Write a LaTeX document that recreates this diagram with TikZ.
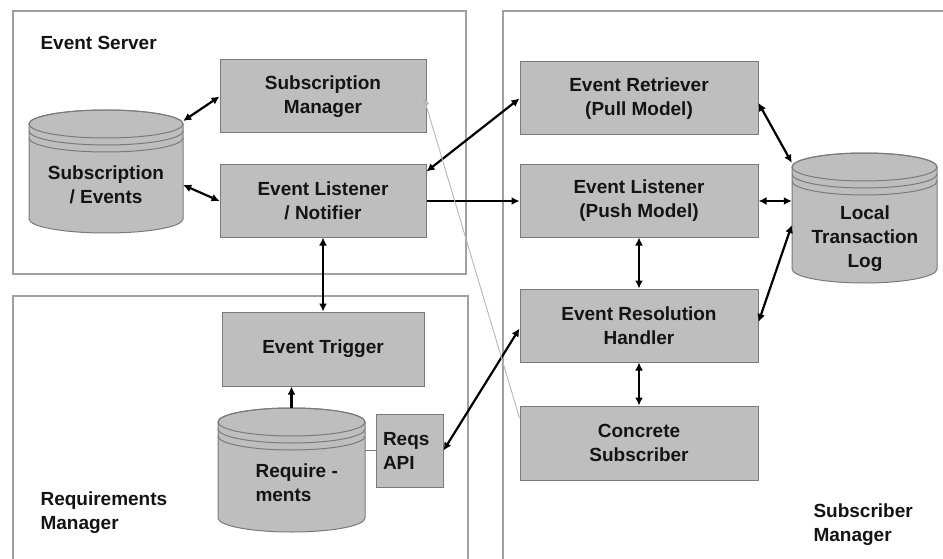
\documentclass[tikz,border=0pt]{standalone}
\usepackage{fontspec}
\setmainfont{Liberation Sans}
\usetikzlibrary{arrows.meta}
\definecolor{boxfill}{HTML}{BEBEBE}
\definecolor{boxline}{HTML}{7A7A7A}
\definecolor{frameline}{HTML}{A0A0A0}
\definecolor{txt}{HTML}{141414}
\tikzset{
  every node/.style={font=\fontsize{19}{24}\selectfont\bfseries, text=txt},
  box/.style={draw=boxline, line width=1pt, fill=boxfill, inner sep=0pt, align=center},
  anchorbox/.style={inner sep=0pt, draw=none},
  frame/.style={draw=frameline, line width=1.6pt},
  conn/.style={line width=2.2pt, black},
  bi/.style={conn, {Latex[length=8pt,width=8pt]}-{Latex[length=8pt,width=8pt]}},
  uni/.style={conn, -{Latex[length=8pt,width=8pt]}},
  ghost/.style={line width=0.9pt, draw=black!28, -{Latex[length=9pt,width=7pt]}},
}
% cylinder: #1 x1, #2 x2, #3 ytop, #4 ybottom (pixel coordinates, y downward)
\newcommand{\drawcyl}[4]{%
  \pgfmathsetmacro{\rx}{(#2-#1)/2}%
  \pgfmathsetmacro{\cx}{(#1+#2)/2}%
  \pgfmathsetmacro{\cyy}{#3+14}%
  \pgfmathsetmacro{\byy}{#4-14}%
  \pgfmathsetmacro{\bandA}{#3+21}%
  \pgfmathsetmacro{\bandB}{#3+28}%
  \filldraw[fill=boxfill, draw=boxline, line width=1pt]
    (#1,\cyy) -- (#1,\byy) arc[start angle=180, end angle=0, x radius=\rx, y radius=14]
    -- (#2,\cyy) arc[start angle=0, end angle=-180, x radius=\rx, y radius=14] -- cycle;
  \draw[boxline, line width=1pt] (\cx,\cyy) ellipse[x radius=\rx, y radius=14];
  \draw[boxline, line width=1pt] (#1,\bandA) arc[start angle=180, end angle=0, x radius=\rx, y radius=14];
  \draw[boxline, line width=1pt] (#1,\bandB) arc[start angle=180, end angle=0, x radius=\rx, y radius=14];
}
\begin{document}
\begin{tikzpicture}[x=1pt, y=-1pt]
\useasboundingbox (0,0) rectangle (943,559);
\clip (0,0) rectangle (943,559);
\fill[white] (0,0) rectangle (943,559);

% frames
\draw[frame] (13,11) rectangle (466,274);
\draw[frame] (13,296) rectangle (468,575);
\draw[frame] (503,11) rectangle (960,575);

% frame labels
\node[anchor=west] (lblES) at (37,43) {Event Server};
\node[anchor=west, align=left] (lblRM) at (37,513) {Requirements\\Manager};
\node[anchor=west, align=left] (lblSM) at (810,525) {Subscriber\\Manager};

% cylinders
\drawcyl{29}{183}{110}{233}
\node[anchorbox, minimum width=154pt, minimum height=123pt] (se) at (106,171.5) {};
\node[align=center] (setext) at (106,185) {Subscription\\/ Events};

\drawcyl{792}{937}{153}{283}
\node[anchorbox, minimum width=145pt, minimum height=130pt] (ltl) at (864.5,218) {};
\node[align=center] (ltltext) at (865,239) {Local\\Transaction\\Log};

\drawcyl{218}{365}{408}{532}
\node[anchorbox, minimum width=147pt, minimum height=124pt] (req) at (291.5,470) {};
\node[anchor=west, align=left] (reqtext) at (252,482.5) {Require -\\ments};

% boxes
\node[box, minimum width=206pt, minimum height=73pt] (sm) at (323,96.5) {Subscription\\Manager};
\node[box, minimum width=206pt, minimum height=72pt] (eln) at (323,201) {Event Listener\\/ Notifier};
\node[box, minimum width=238pt, minimum height=73pt] (er) at (639,98.5) {Event Retriever\\(Pull Model)};
\node[box, minimum width=238pt, minimum height=72pt] (elp) at (639,201) {Event Listener\\(Push Model)};
\node[box, minimum width=238pt, minimum height=73pt] (erh) at (639,325.5) {Event Resolution\\Handler};
\node[box, minimum width=238pt, minimum height=74pt] (cs) at (639,443) {Concrete\\Subscriber};
\node[box, minimum width=202pt, minimum height=74pt] (et) at (323,349) {Event Trigger};
\node[box, minimum width=67pt, minimum height=73pt, text width=53pt, align=left] (api) at (409.5,450.5) {Reqs\\API};

% connectors
\draw[bi] ([yshift=50.5pt]se.east) -- (sm.west);
\draw[bi] ([yshift=-13.5pt]se.east) -- (eln.west);
\draw[bi] ([yshift=-7pt]eln.north east) -- (er.west);
\draw[uni] (eln.east) -- (elp.west);
\draw[bi] (eln.south) -- (et.north);
\draw[uni] (req.north) -- (req.north |- et.south);
\draw[line width=1pt, boxline] (api.west -| req.east) -- (api.west);
\draw[bi] (api.east) -- ([yshift=-3pt]erh.west);
\draw[bi] ([yshift=-4.5pt]er.east) -- ([yshift=-10pt]ltl.north west);
\draw[bi] (elp.east) -- (ltl.west |- elp.east);
\draw[bi] ([yshift=3.5pt]erh.east) -- ([yshift=-7pt]ltl.west);
\draw[bi] (elp.south) -- (erh.north);
\draw[bi] (erh.south) -- (cs.north);
\draw[ghost] ([yshift=25pt]cs.west) -- ([xshift=-3pt]sm.east);
\end{tikzpicture}
\end{document}
